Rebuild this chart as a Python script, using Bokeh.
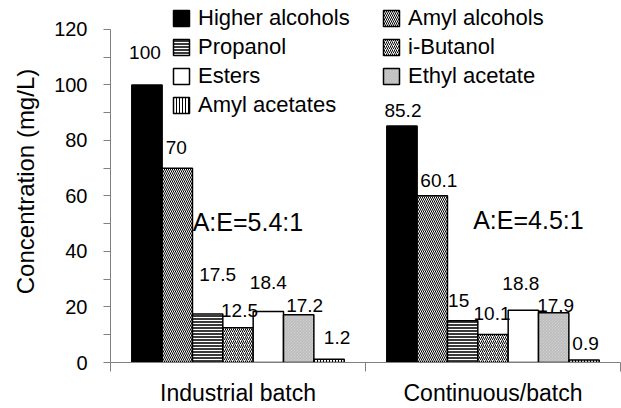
from bokeh.plotting import figure
from bokeh.models import Range1d, FixedTicker, Legend, LegendItem, ColumnDataSource
from bokeh.embed import file_html
from bokeh.resources import INLINE
from bokeh.core.properties import value

# ---- data ----
categories = ["Industrial batch", "Continuous/batch"]
series = ["Higher alcohols", "Amyl alcohols", "Propanol", "i-Butanol",
          "Esters", "Ethyl acetate", "Amyl acetates"]
industrial = [100, 70, 17.5, 12.5, 18.4, 17.2, 1.2]
continuous = [85.2, 60.1, 15, 10.1, 18.8, 17.9, 0.9]
value_labels_ind = ["100", "70", "17.5", "12.5", "18.4", "17.2", "1.2"]
value_labels_con = ["85.2", "60.1", "15", "10.1", "18.8", "17.9", "0.9"]
ratio_labels = ["A:E=5.4:1", "A:E=4.5:1"]
y_ticks = [0, 20, 40, 60, 80, 100, 120]
y_minor = [10, 30, 50, 70, 90, 110]

# ---- styles ----
FONT = "Liberation Sans"
BW = 0.119
styles = [
    dict(fill_color="black"),
    dict(fill_color="white", hatch_pattern="\\", hatch_scale=4, hatch_weight=1, hatch_color="black"),
    dict(fill_color="#3a3a3a", hatch_pattern="-", hatch_scale=3, hatch_weight=1, hatch_color="white"),
    dict(fill_color="white", hatch_pattern="/", hatch_scale=4, hatch_weight=1, hatch_color="black"),
    dict(fill_color="white"),
    dict(fill_color="#dadada", hatch_pattern="\\", hatch_scale=3, hatch_weight=0.6, hatch_color="#9a9a9a"),
    dict(fill_color="white", hatch_pattern="|", hatch_scale=3, hatch_weight=1, hatch_color="black"),
]
# label offsets in pixels (dx, up)
off_ind = [(-2, 32), (-1, 21), (10, 39), (1.5, 17), (0, 29), (6, 9), (8, 22)]
off_con = [(1, 16), (6.5, 15), (-4, 20), (-1, 21), (-2.5, 27), (2, 7), (1.5, 17)]
ratio_dx = [0.039, 0.139]
ratio_y = [50.8, 51.2]

p = figure(width=621, height=408, output_backend="svg", toolbar_location=None,
           x_range=Range1d(0, 2), y_range=Range1d(0, 130.45),
           min_border_left=110, min_border_right=1, min_border_top=0, min_border_bottom=46)
p.outline_line_color = None
p.grid.grid_line_color = None
p.background_fill_color = "white"
p.border_fill_color = "white"

renderers = []
for i, name in enumerate(series):
    xs = [c + 0.5 + (i - 3) * BW for c in range(len(categories))]
    tops = [industrial[i], continuous[i]]
    src = ColumnDataSource(dict(x=xs, top=tops))
    r = p.vbar(x="x", top="top", width=BW, bottom=0, source=src,
               line_color="black", line_width=1.5, **styles[i])
    renderers.append(r)

# value labels
lx, ly, lt, ldx, ldy = [], [], [], [], []
for c, (vals, labs, offs) in enumerate([(industrial, value_labels_ind, off_ind),
                                         (continuous, value_labels_con, off_con)]):
    for i, v in enumerate(vals):
        lx.append(c + 0.5 + (i - 3) * BW)
        ly.append(v)
        lt.append(labs[i])
        ldx.append(offs[i][0])
        ldy.append(-offs[i][1])
lsrc = ColumnDataSource(dict(x=lx, y=ly, t=lt, dx=ldx, dy=ldy))
p.text(x="x", y="y", text="t", x_offset="dx", y_offset="dy", source=lsrc,
       text_align="center", text_baseline="alphabetic",
       text_font=value(FONT), text_font_size="19px", text_color="black")

rsrc = ColumnDataSource(dict(x=[c + 0.5 + d for c, d in zip(range(2), ratio_dx)],
                             y=ratio_y, t=ratio_labels))
p.text(x="x", y="y", text="t", source=rsrc, text_align="center", text_baseline="alphabetic",
       text_font=value(FONT), text_font_size="25px", text_color="black")

# axes
xa = p.xaxis[0]
xa.ticker = FixedTicker(ticks=[0.5, 1.5], minor_ticks=[0, 1, 2])
xa.major_label_overrides = {0.5: categories[0], 1.5: categories[1]}
xa.major_tick_line_color = None
xa.major_tick_in = 0
xa.major_tick_out = 0
xa.minor_tick_in = 0
xa.minor_tick_out = 9
xa.minor_tick_line_color = "#808080"
xa.axis_line_color = "#808080"
xa.bounds = (0, 2)
xa.major_label_standoff = 8
xa.major_label_text_font = FONT
xa.major_label_text_font_size = "23px"
xa.major_label_text_color = "black"

ya = p.yaxis[0]
ya.ticker = FixedTicker(ticks=y_ticks, minor_ticks=y_minor)
ya.bounds = (0, 120)
ya.axis_line_color = "#808080"
ya.major_tick_line_color = "#808080"
ya.minor_tick_line_color = "#808080"
ya.major_tick_in = 0
ya.major_tick_out = 7
ya.minor_tick_in = 0
ya.minor_tick_out = 7
ya.major_label_standoff = 16
ya.major_label_text_font = FONT
ya.major_label_text_font_size = "20px"
ya.major_label_text_color = "black"
ya.axis_label = "Concentration (mg/L)"
ya.axis_label_text_font = FONT
ya.axis_label_text_font_size = "24px"
ya.axis_label_text_font_style = "normal"
ya.axis_label_text_color = "black"
ya.axis_label_standoff = 12

def make_legend(idx, loc):
    lg = Legend(items=[LegendItem(label=series[i], renderers=[renderers[i]]) for i in idx],
                location=loc, orientation="vertical",
                glyph_width=20, glyph_height=20, label_height=20, label_standoff=7,
                spacing=3, padding=0, margin=0,
                border_line_color=None, background_fill_alpha=0,
                label_text_font=FONT, label_text_font_size="22px", label_text_color="black")
    return lg

p.add_layout(make_legend([0, 2, 4, 6], (61, 244)))
p.add_layout(make_legend([1, 3, 5], (271, 273)))

open("out.html", "w").write(file_html(p, INLINE))
